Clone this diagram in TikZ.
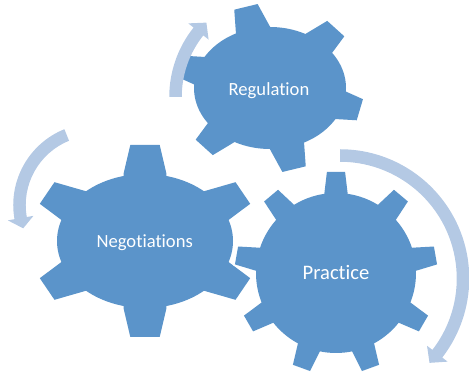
\documentclass[tikz,border=0pt]{standalone}
\usepackage{fontspec}
\setmainfont{Carlito}[Ligatures=NoCommon]
\definecolor{gearblue}{RGB}{91,148,202}
\definecolor{arrowblue}{RGB}{180,201,228}
\tikzset{
  gearoutline/.style={draw=white, line width=3pt, line join=miter},
  gearfill/.style={fill=gearblue},
  arrowshape/.style={fill=arrowblue},
  lbl/.style={text=white, inner sep=0pt, anchor=base}
}
\newcommand\mygear[7]{%
  \begin{scope}[shift={#1}]
    \path[gearoutline] (0,0) ellipse [x radius=#2, y radius=#3];
    \foreach \a in {#6} \path[gearoutline, xscale=#4, yscale=#5, rotate=\a] #7;
    \path[gearfill] (0,0) ellipse [x radius=#2, y radius=#3];
    \foreach \a in {#6} \path[gearfill, xscale=#4, yscale=#5, rotate=\a] #7;
  \end{scope}}
\begin{document}
\begin{tikzpicture}[x=1pt,y=1pt]
\useasboundingbox (0,0) rectangle (469,377);
% Regulation gear
\mygear{(270,289)}{76}{61}{93}{84}{45,105,...,345}{(0.4,-0.19) -- (0.7,-0.19) -- (1,-0.13) -- (1,0.13) -- (0.7,0.19) -- (0.4,0.19) -- cycle}
% Negotiations gear
\mygear{(145,136)}{88}{67}{113}{96}{90,150,...,390}{(0.4,-0.19) -- (0.7,-0.19) -- (1,-0.13) -- (1,0.13) -- (0.7,0.19) -- (0.4,0.19) -- cycle}
% Practice gear
\mygear{(336,104)}{80}{80}{101}{101}{90,130,...,410}{(0.5,-0.115) -- (0.79,-0.115) -- (1,-0.09) -- (1,0.09) -- (0.79,0.115) -- (0.5,0.115) -- cycle}
% labels
\fontsize{18.6}{22}\selectfont
\node[lbl] (reg) at (269,281) {Regulation};
\node[lbl] (neg) at (144.7,129.7) {Negotiations};
\node[lbl, font=\fontsize{20.6}{24}\selectfont] (pra) at (336,97.7) {Practice};
% arrows
\begin{scope}[shift={(280.5,280)}]
  \path[arrowshape] (180:111.25) arc[start angle=180, end angle=141.4, radius=111.25]
    -- (141.4:118) -- (134.9:105) -- (141.4:92) -- (141.4:98.75)
    arc[start angle=141.4, end angle=180, radius=98.75] -- cycle;
\end{scope}
\begin{scope}[shift={(95,172)}]
  \path[arrowshape] (112:81.75) arc[start angle=112, end angle=190, radius=81.75]
    -- (190:88.5) -- (198:75.5) -- (190:62.5) -- (190:69.25)
    arc[start angle=190, end angle=112, radius=69.25] -- cycle;
\end{scope}
\begin{scope}[shift={(340,98.5)}]
  \path[arrowshape] (90:129.25) arc[start angle=90, end angle=-37.7, radius=129.25]
    -- (-37.7:136) -- (-43.3:123) -- (-37.7:110) -- (-37.7:116.75)
    arc[start angle=-37.7, end angle=90, radius=116.75] -- cycle;
\end{scope}
\end{tikzpicture}
\end{document}
